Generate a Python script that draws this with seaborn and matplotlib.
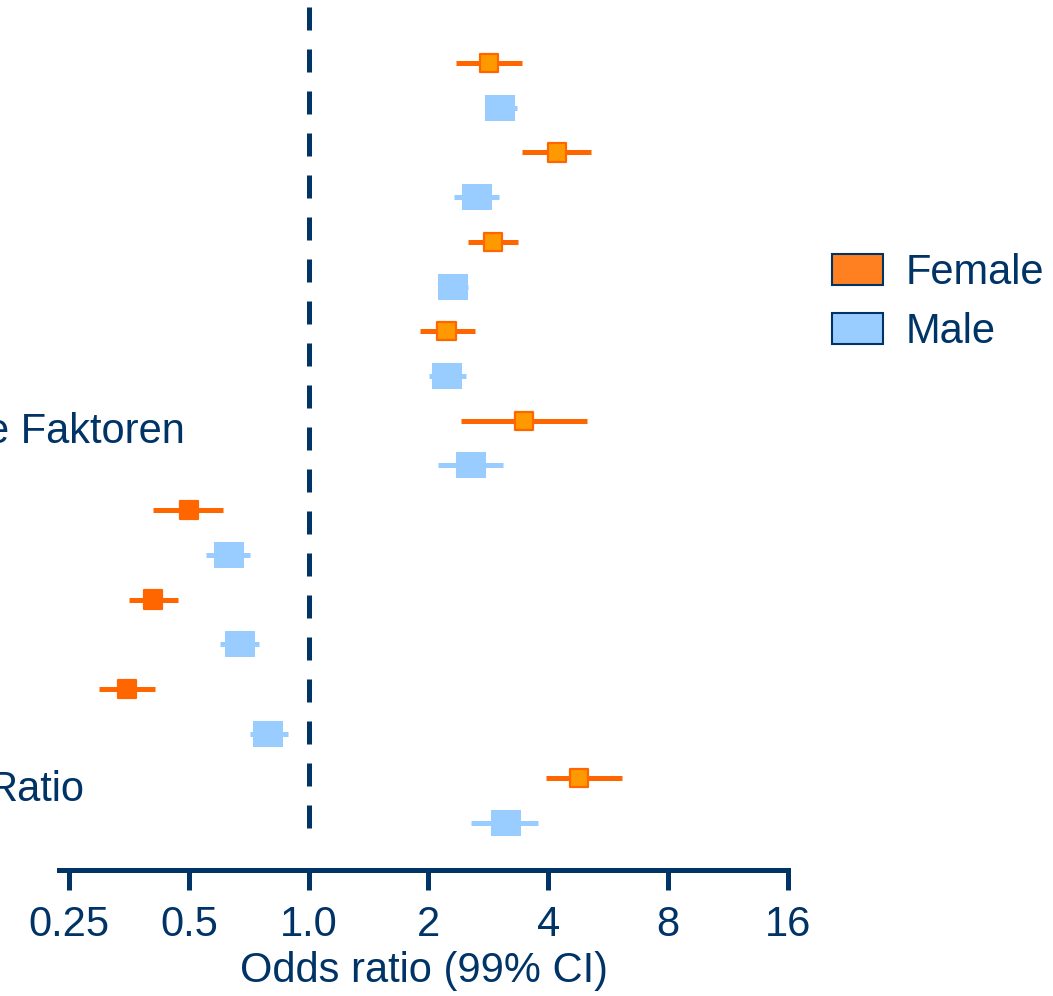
import numpy as np
import pandas as pd
import seaborn as sns
import matplotlib.pyplot as plt
from matplotlib.patches import Patch

# odds ratios, top pair first
factor = [1, 2, 3, 4, 5, 6, 7, 8, 9]
female_or = [2.84, 4.21, 2.91, 2.22, 3.48, 0.50, 0.406, 0.349, 4.78]
female_lo = [2.34, 3.44, 2.52, 1.90, 2.41, 0.406, 0.354, 0.297, 3.95]
female_hi = [3.44, 5.13, 3.36, 2.62, 5.01, 0.608, 0.469, 0.411, 6.13]
male_or = [3.03, 2.65, 2.30, 2.23, 2.56, 0.63, 0.671, 0.789, 3.14]
male_lo = [2.78, 2.32, 2.11, 2.01, 2.11, 0.552, 0.598, 0.711, 2.56]
male_hi = [3.34, 3.00, 2.52, 2.49, 3.08, 0.711, 0.749, 0.886, 3.76]
tick_vals = [0.25, 0.5, 1.0, 2, 4, 8, 16]
tick_labels = ['0.25', '0.5', '1.0', '2', '4', '8', '16']

navy = '#003366'
orange = '#FF6600'
light_orange = '#FF9900'
blue = '#99CCFF'
# female boxes in pairs 6-8 are drawn solid
female_fill = [light_orange] * 5 + [orange] * 3 + [light_orange]

female = pd.DataFrame({'factor': factor, 'OR': female_or, 'lo': female_lo,
                       'hi': female_hi, 'fill': female_fill})
female['row'] = (female['factor'] - 1) * 2
male = pd.DataFrame({'factor': factor, 'OR': male_or, 'lo': male_lo, 'hi': male_hi})
male['row'] = (male['factor'] - 1) * 2 + 1

sns.set_style('white')
plt.rcParams['font.family'] = ['Liberation Sans', 'DejaVu Sans']

fig = plt.figure(figsize=(10.53, 9.96), dpi=100)
ax = fig.add_axes([59 / 1053, 1 - 870 / 996, 729 / 1053, 870 / 996])

# confidence intervals
ax.hlines(female['row'], female['lo'], female['hi'], color=orange, lw=3.6, zorder=2)
ax.hlines(male['row'], male['lo'], male['hi'], color=blue, lw=3.6, zorder=2)

box = [(-1, -0.9), (1, -0.9), (1, 0.9), (-1, 0.9), (-1, -0.9)]
sns.scatterplot(data=male, x='OR', y='row', marker=box, s=440, color=blue,
                linewidth=0, legend=False, ax=ax, zorder=3)
sns.scatterplot(data=female, x='OR', y='row', hue='fill', marker='s', s=170,
                palette={light_orange: light_orange, orange: orange},
                edgecolor=orange, linewidth=1.6, legend=False, ax=ax, zorder=3)

ax.axvline(1.0, ymin=(870 - 828) / 870, ymax=(870 - 3) / 870, color=navy,
           lw=3.6, linestyle=(0, (4.6, 3.8)), zorder=1)

ax.set_xscale('log', base=2)
ax.set_xlim(2 ** ((59 - 309) / 120), 16)
ax.set_ylim(18.05, -1.41)
ax.set_xticks(tick_vals)
ax.set_xticklabels(tick_labels)
ax.minorticks_off()
ax.set_yticks([])
ax.set_ylabel('')
ax.set_xlabel('Odds ratio (99% CI)', fontsize=30, color=navy, labelpad=4)
ax.tick_params(axis='x', colors=navy, labelsize=30, length=14.5, width=3.6,
               direction='out', pad=11, bottom=True)
for s in ['left', 'top', 'right']:
    ax.spines[s].set_visible(False)
ax.spines['bottom'].set_color(navy)
ax.spines['bottom'].set_linewidth(3.6)
ax.patch.set_alpha(0)

# group labels, mostly outside the picture
trans = ax.get_yaxis_transform()
ax.text(0.1728, 8.25, 'e Faktoren', ha='right', va='center', fontsize=30,
        color=navy, transform=trans, clip_on=False)
ax.text(0.0357, 16.25, 'Ratio', ha='right', va='center', fontsize=30,
        color=navy, transform=trans, clip_on=False)

handles = [Patch(facecolor='#FF8020', edgecolor=navy, lw=1.5, label='Female'),
           Patch(facecolor=blue, edgecolor=navy, lw=1.5, label='Male')]
fig.legend(handles=handles, loc='upper left', bbox_to_anchor=(832 / 1053, 1 - 253 / 996),
           frameon=False, fontsize=30, labelcolor=navy, borderpad=0, borderaxespad=0,
           handlelength=1.22, handleheight=0.77, handletextpad=0.55, labelspacing=0.45)

fig.savefig('out.png', dpi=100)
